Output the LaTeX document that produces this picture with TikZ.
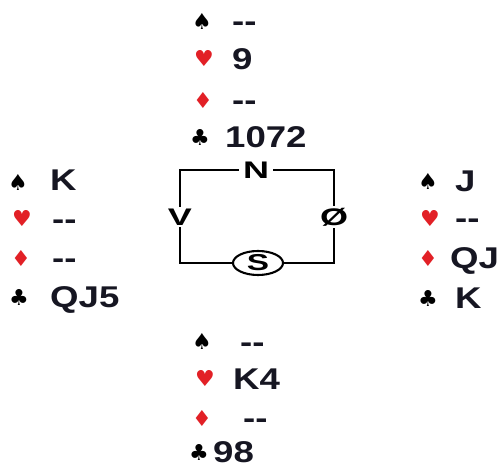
\documentclass[tikz,border=0pt]{standalone}
\usepackage{fontspec}
\usepackage{graphicx}
\usetikzlibrary{shapes.geometric}
\newfontfamily\handfont[Ligatures=NoCommon]{Liberation Sans}
\newfontfamily\suitfont{DejaVu Sans}
\definecolor{suitred}{RGB}{226,32,38}
\definecolor{ink}{RGB}{22,22,34}
\newcommand{\hs}[1]{\scalebox{1.22}[1]{#1}}
\newcommand{\bs}[1]{\scalebox{1.5}[1]{#1}}
\tikzset{
  suitsym/.style={font=\suitfont\fontsize{22}{22}\selectfont, inner sep=0pt, text=black},
  redsuit/.style={suitsym, text=suitred},
  holding/.style={anchor=west, inner sep=0pt, text=ink, text height=21.5pt, text depth=0pt,
    font=\handfont\bfseries\fontsize{30}{30}\selectfont},
  seat/.style={inner sep=2pt, text=black, font=\handfont\bfseries\fontsize{24}{24}\selectfont},
  boxline/.style={line width=2.1pt, black},
}
\begin{document}
\begin{tikzpicture}[x=1pt,y=-1pt]
\useasboundingbox (0,0) rectangle (499,470);
\fill[white] (0,0) rectangle (499,470);
% North
\node[suitsym] (ns) at (202,21) {♠};
\node[holding] (nst) at (232,21) {\hs{-{}-}};
\node[redsuit] (nh) at (204,58) {♥};
\node[holding] (nht) at (232,59) {\hs{9}};
\node[redsuit] (nd) at (203,100) {♦};
\node[holding] (ndt) at (232,100) {\hs{-{}-}};
\node[suitsym] (nc) at (200,137) {♣};
\node[holding] (nct) at (225,137) {\hs{1072}};
% West
\node[suitsym] (ws) at (18,182) {♠};
\node[holding] (wst) at (50,180) {\hs{K}};
\node[redsuit] (wh) at (22,218) {♥};
\node[holding] (wht) at (52,219) {\hs{-{}-}};
\node[redsuit] (wd) at (21,258) {♦};
\node[holding] (wdt) at (52,258) {\hs{-{}-}};
\node[suitsym] (wc) at (19,297) {♣};
\node[holding] (wct) at (50,297) {\hs{QJ5}};
% East
\node[suitsym] (es) at (428,181) {♠};
\node[holding] (est) at (455,181) {\hs{J}};
\node[redsuit] (eh) at (430,218) {♥};
\node[holding] (eht) at (455,218) {\hs{-{}-}};
\node[redsuit] (ed) at (428,258) {♦};
\node[holding] (edt) at (450,258) {\hs{QJ}};
\node[suitsym] (ec) at (428,298) {♣};
\node[holding] (ect) at (455,298) {\hs{K}};
% South
\node[suitsym] (ss) at (202,341) {♠};
\node[holding] (sst) at (240,342) {\hs{-{}-}};
\node[redsuit] (sh) at (205,378) {♥};
\node[holding] (sht) at (233,379) {\hs{K4}};
\node[redsuit] (sd) at (202,418) {♦};
\node[holding] (sdt) at (243,418) {\hs{-{}-}};
\node[suitsym] (sc) at (199,452) {♣};
\node[holding] (sct) at (213,452) {\hs{98}};
% Table
\node[seat, inner xsep=4pt] (N) at (256,170) {\bs{N}};
\node[seat] (V) at (180,217) {\bs{V}};
\node[seat] (O) at (334,217) {\bs{Ø}};
\node[seat, draw, line width=2.1pt, ellipse, inner sep=0pt, minimum width=50pt, minimum height=24pt] (S) at (258,263) {\scalebox{1.45}[1]{\fontsize{23}{23}\selectfont S}};
\draw[boxline] (V.north) |- (N.west);
\draw[boxline] (N.east) -| (O.north);
\draw[boxline] (O.south) |- (S.east);
\draw[boxline] (S.west) -| (V.south);
\end{tikzpicture}
\end{document}
